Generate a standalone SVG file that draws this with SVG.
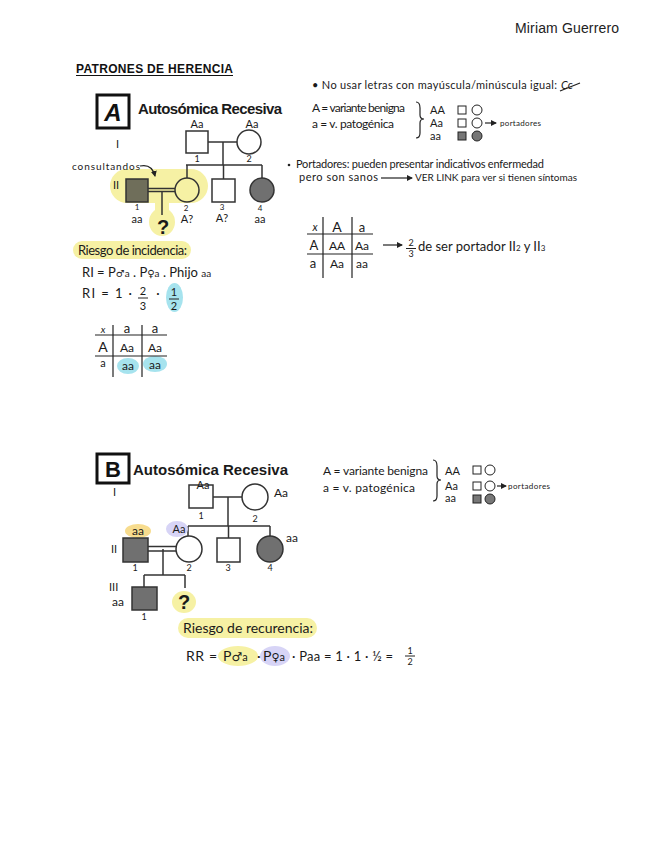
<svg xmlns="http://www.w3.org/2000/svg" width="648" height="848" viewBox="0 0 648 848">
<defs>
<style>
.hw{font-family:"Lato","Open Sans","Liberation Sans",sans-serif;fill:#1a1a1a}
.sym{font-family:"DejaVu Sans",sans-serif}
.sm{font-size:9px}
.md{font-size:11px}
.lg{font-size:12px}
.xl{font-size:13px}
.title{font-family:"Liberation Sans",Arial,sans-serif;font-weight:bold;font-size:15px;fill:#1a1a1a}
.c{text-anchor:middle}
.ln{stroke:#333;stroke-width:1.5;fill:none}
.thin{stroke:#222;stroke-width:1.2;fill:none}
.nd{stroke:#333;stroke-width:1.5;fill:#fff}
.aff{stroke:#333;stroke-width:1.5;fill:#707070}
.mini{stroke:#222;stroke-width:1;fill:#fff}
.minif{stroke:#222;stroke-width:1;fill:#777}
.yel{fill:#f6f1a4}
.cyan{fill:#a6e3ee}
.lav{fill:#d7d4f6}
.org{fill:#f7dc8e}
.q{font-family:"Liberation Sans",Arial,sans-serif;font-weight:bold;font-size:20px;fill:#1a1a1a;text-anchor:middle}
</style>
<marker id="ah" markerWidth="6" markerHeight="6" refX="5" refY="3" orient="auto" markerUnits="userSpaceOnUse">
<path d="M0,0 L6,3 L0,6 Z" fill="#222"/>
</marker>
</defs>
<rect width="648" height="848" fill="#fff"/>

<!-- header -->
<text x="515" y="33" font-family="Liberation Sans,Arial,sans-serif" font-size="14" fill="#222" textLength="104">Miriam Guerrero</text>
<text x="76" y="73" font-family="Liberation Sans,Arial,sans-serif" font-size="12" font-weight="bold" fill="#111" textLength="157">PATRONES DE HERENCIA</text>
<line x1="76" y1="75.5" x2="233" y2="75.5" stroke="#111" stroke-width="1"/>

<!-- ===== Section A ===== -->
<g id="boxA">
<rect x="97" y="95" width="32" height="33" fill="none" stroke="#111" stroke-width="3"/>
<text x="113" y="121" font-family="Liberation Sans,Arial,sans-serif" font-size="24" font-weight="bold" font-style="italic" text-anchor="middle" fill="#111">A</text>
</g>
<text class="title" x="138" y="114" textLength="144">Autosómica Recesiva</text>

<!-- highlights A -->
<rect class="yel" x="110" y="169" width="98" height="34" rx="17"/>
<ellipse class="yel" cx="162" cy="222" rx="13" ry="14"/>
<rect class="yel" x="155" y="200" width="14" height="12"/>

<g id="connectorsA">
<line class="ln" x1="208" y1="142" x2="237" y2="142"/>
<line class="ln" x1="223" y1="142" x2="223" y2="165"/>
<line class="ln" x1="186" y1="165" x2="262" y2="165"/>
<line class="ln" x1="187" y1="165" x2="187" y2="178"/>
<line class="ln" x1="223.5" y1="165" x2="223.5" y2="179"/>
<line class="ln" x1="262" y1="165" x2="262" y2="178"/>
<line class="ln" x1="148" y1="188.5" x2="175" y2="188.5"/>
<line class="ln" x1="148" y1="191.5" x2="175" y2="191.5"/>
<line class="ln" x1="162" y1="191" x2="162" y2="215"/>
<path class="thin" d="M140,166 C149,164 153,168 155,176" marker-end="url(#ah)"/>
</g>

<text class="hw md" x="116" y="148">I</text>
<text class="hw md" x="113" y="189">II</text>
<text class="hw" x="72" y="170" font-size="10" textLength="68">consultandos</text>

<g id="A-I1">
<rect class="nd" x="186" y="131" width="22" height="22"/>
<text class="hw md c" x="197" y="128">Aa</text>
<text class="hw sm c" x="197" y="162">1</text>
</g>
<g id="A-I2">
<circle class="nd" cx="249" cy="142" r="12"/>
<text class="hw md c" x="252" y="128">Aa</text>
<text class="hw sm c" x="249" y="162">2</text>
</g>
<g id="A-II1">
<rect x="126" y="179" width="22" height="23" fill="#6f6e5a" stroke="#333" stroke-width="1.5"/>
<text class="hw c" x="137" y="210" font-size="8">1</text>
<text class="hw md c" x="137" y="223">aa</text>
</g>
<g id="A-II2">
<circle cx="187" cy="190" r="12" fill="#f6f1a4" stroke="#333" stroke-width="1.5"/>
<text class="hw c" x="186" y="211" font-size="8">2</text>
<text class="hw md c" x="187" y="223">A?</text>
</g>
<g id="A-II3">
<rect class="nd" x="212" y="179" width="23" height="23"/>
<text class="hw c" x="222" y="210" font-size="8">3</text>
<text class="hw md c" x="222" y="222">A?</text>
</g>
<g id="A-II4">
<circle class="aff" cx="262" cy="190" r="12"/>
<text class="hw c" x="260" y="211" font-size="8">4</text>
<text class="hw md c" x="260" y="223">aa</text>
</g>
<g id="A-III">
<text class="q" x="163" y="234">?</text>
</g>

<!-- right side notes A -->
<g id="notesA">
<text class="hw md" x="312" y="89" textLength="245">• No usar letras con mayúscula/minúscula igual:</text>
<text class="hw md" x="561" y="89" font-style="italic">Cc</text>
<line x1="560" y1="91" x2="580" y2="83" stroke="#222" stroke-width="1.2"/>
<text class="hw lg" x="312" y="112" textLength="93">A = variante benigna</text>
<text class="hw lg" x="312" y="128" textLength="82">a = v. patogénica</text>
<path class="thin" d="M416,102 Q420,102 420,108 L420,115 Q420,119 424,119 Q420,119 420,123 L420,133 Q420,138 416,138"/>
<text class="hw md" x="430" y="114">AA</text>
<rect class="mini" x="458" y="106" width="8" height="8"/>
<circle class="mini" cx="477" cy="110" r="5"/>
<text class="hw md" x="430" y="127">Aa</text>
<rect class="mini" x="458" y="119" width="8" height="8"/>
<circle class="mini" cx="477" cy="123" r="5"/>
<line class="thin" x1="485" y1="123" x2="496" y2="123" marker-end="url(#ah)"/>
<text class="hw" x="500" y="126" font-size="8" textLength="41">portadores</text>
<text class="hw md" x="430" y="140">aa</text>
<rect class="minif" x="458" y="132" width="8" height="8"/>
<circle class="minif" cx="477" cy="136" r="5"/>

<circle cx="289" cy="165" r="1.3" fill="#222"/>
<text class="hw md" x="296" y="168" textLength="248">Portadores: pueden presentar indicativos enfermedad</text>
<text class="hw md" x="299" y="181" textLength="79">pero son sanos</text>
<line class="thin" x1="381" y1="178" x2="412" y2="178" marker-end="url(#ah)"/>
<text class="hw" x="415" y="181" font-size="10" textLength="162">VER LINK para ver si tienen síntomas</text>
</g>

<!-- Punnett right A -->
<g id="punnettA2">
<line class="thin" x1="323" y1="217" x2="323" y2="278"/>
<line class="thin" x1="352" y1="217" x2="352" y2="278"/>
<line class="thin" x1="307" y1="234" x2="373" y2="234"/>
<line class="thin" x1="307" y1="254" x2="373" y2="254"/>
<text class="hw md c" x="315" y="231" font-style="italic">x</text>
<text class="hw c" x="337" y="232" font-size="14">A</text>
<text class="hw xl c" x="362" y="232">a</text>
<text class="hw xl c" x="314" y="250">A</text>
<text class="hw lg c" x="337" y="250">AA</text>
<text class="hw lg c" x="362" y="250">Aa</text>
<text class="hw xl c" x="313" y="268">a</text>
<text class="hw lg c" x="337" y="268">Aa</text>
<text class="hw lg c" x="362" y="268">aa</text>
<line class="thin" x1="383" y1="245" x2="402" y2="245" marker-end="url(#ah)"/>
<text class="hw sm c" x="411" y="246">2</text>
<line x1="406" y1="248.5" x2="416" y2="248.5" stroke="#222" stroke-width="1"/>
<text class="hw sm c" x="411" y="257">3</text>
<text class="hw" x="418" y="251" font-size="13">de ser portador II<tspan font-size="8">2</tspan> y II<tspan font-size="8">3</tspan></text>
</g>

<!-- Risk A -->
<g id="riskA">
<rect class="yel" x="73" y="241" width="118" height="18" rx="9"/>
<text class="hw xl" x="78" y="255" textLength="109">Riesgo de incidencia:</text>
<text class="hw xl" x="82" y="277">RI = P<tspan class="sym" font-size="10">♂</tspan><tspan font-size="10">a</tspan> . P<tspan class="sym" font-size="10">♀</tspan><tspan font-size="10">a</tspan> . Phijo <tspan font-size="10">aa</tspan></text>
<text class="hw xl" x="82" y="298" textLength="50">RI = 1 ·</text>
<text class="hw md c" x="143" y="295">2</text>
<line x1="138" y1="298" x2="148" y2="298" stroke="#222" stroke-width="1"/>
<text class="hw md c" x="143" y="310">3</text>
<text class="hw xl c" x="158" y="298">·</text>
<ellipse class="cyan" cx="174.5" cy="297.5" rx="8.5" ry="14.5"/>
<text class="hw md c" x="174" y="296">1</text>
<line x1="169" y1="299" x2="179" y2="299" stroke="#222" stroke-width="1"/>
<text class="hw md c" x="174" y="310">2</text>
</g>

<!-- Punnett left A -->
<g id="punnettA1">
<ellipse class="cyan" cx="128" cy="366" rx="11" ry="8"/>
<ellipse class="cyan" cx="155" cy="364" rx="12" ry="8"/>
<line class="thin" x1="113" y1="325" x2="113" y2="377"/>
<line class="thin" x1="142" y1="325" x2="142" y2="377"/>
<line class="thin" x1="95" y1="335" x2="167" y2="335"/>
<line class="thin" x1="95" y1="356" x2="167" y2="356"/>
<text class="hw c" x="103" y="333" font-size="10" font-style="italic">x</text>
<text class="hw xl c" x="127" y="333">a</text>
<text class="hw xl c" x="155" y="333">a</text>
<text class="hw c" x="103" y="352" font-size="14">A</text>
<text class="hw lg c" x="127" y="352">Aa</text>
<text class="hw lg c" x="155" y="352">Aa</text>
<text class="hw md c" x="103" y="367">a</text>
<text class="hw lg c" x="128" y="370">aa</text>
<text class="hw lg c" x="155" y="369">aa</text>
</g>

<!-- ===== Section B ===== -->
<g id="boxB">
<rect x="97" y="454" width="32" height="29" fill="none" stroke="#111" stroke-width="3"/>
<text x="113" y="477" font-family="Liberation Sans,Arial,sans-serif" font-size="22" font-weight="bold" text-anchor="middle" fill="#111">B</text>
</g>
<text class="title" x="133" y="475" textLength="155">Autosómica Recesiva</text>

<g id="connectorsB">
<line class="ln" x1="213" y1="497" x2="242" y2="497"/>
<line class="ln" x1="228" y1="497" x2="228" y2="526"/>
<line class="ln" x1="188" y1="526" x2="270" y2="526"/>
<line class="ln" x1="188" y1="526" x2="188" y2="536"/>
<line class="ln" x1="228.5" y1="526" x2="228.5" y2="538"/>
<line class="ln" x1="270" y1="526" x2="270" y2="536"/>
<line class="ln" x1="148" y1="546.5" x2="176" y2="546.5"/>
<line class="ln" x1="148" y1="551" x2="176" y2="551"/>
<line class="ln" x1="163" y1="549" x2="163" y2="575"/>
<line class="ln" x1="144" y1="575" x2="185" y2="575"/>
<line class="ln" x1="144" y1="575" x2="144" y2="587"/>
<line class="ln" x1="185" y1="575" x2="185" y2="588"/>
</g>

<text class="hw md" x="113" y="496">I</text>
<text class="hw md" x="111" y="553">II</text>
<text class="hw md" x="109" y="591">III</text>

<g id="B-I1">
<rect class="nd" x="189" y="485" width="24" height="23"/>
<text class="hw md c" x="203" y="489">Aa</text>
<text class="hw sm c" x="201" y="519">1</text>
</g>
<g id="B-I2">
<circle class="nd" cx="255" cy="497" r="13"/>
<text class="hw lg c" x="281" y="497">Aa</text>
<text class="hw sm c" x="255" y="522">2</text>
</g>
<g id="B-II1">
<ellipse class="org" cx="138" cy="531" rx="13" ry="7"/>
<text class="hw lg c" x="138" y="535">aa</text>
<rect class="aff" x="123" y="538" width="25" height="24"/>
<text class="hw sm c" x="135" y="571">1</text>
</g>
<g id="B-II2">
<ellipse class="lav" cx="177" cy="529" rx="11" ry="8"/>
<text class="hw md c" x="179" y="533">Aa</text>
<circle class="nd" cx="189" cy="549" r="13"/>
<text class="hw sm c" x="189" y="571">2</text>
</g>
<g id="B-II3">
<rect class="nd" x="217" y="538" width="23" height="24"/>
<text class="hw sm c" x="228" y="571">3</text>
</g>
<g id="B-II4">
<circle class="aff" cx="270" cy="549" r="13"/>
<text class="hw lg c" x="292" y="542">aa</text>
<text class="hw sm c" x="270" y="571">4</text>
</g>
<g id="B-III1">
<rect class="aff" x="132" y="587" width="25" height="23"/>
<text class="hw lg c" x="118" y="606">aa</text>
<text class="hw sm c" x="144" y="620">1</text>
</g>
<g id="B-III2">
<ellipse class="yel" cx="184" cy="602" rx="12" ry="11"/>
<text class="q" x="184" y="609">?</text>
</g>

<g id="notesB">
<text class="hw lg" x="323" y="475" textLength="105">A = variante benigna</text>
<text class="hw lg" x="323" y="492" textLength="92">a = v. patogénica</text>
<path class="thin" d="M433,460 Q437,460 437,466 L437,476 Q437,480 441,480 Q437,480 437,484 L437,496 Q437,501 433,501"/>
<text class="hw md" x="445" y="475">AA</text>
<rect class="mini" x="473" y="466" width="8" height="8"/>
<circle class="mini" cx="490" cy="470" r="5"/>
<text class="hw md" x="445" y="490">Aa</text>
<rect class="mini" x="473" y="482" width="8" height="8"/>
<circle class="mini" cx="490" cy="486" r="5"/>
<line class="thin" x1="497" y1="486" x2="506" y2="486" marker-end="url(#ah)"/>
<text class="hw" x="508" y="489" font-size="8" textLength="42">portadores</text>
<text class="hw md" x="445" y="502">aa</text>
<rect class="minif" x="473" y="495" width="8" height="8"/>
<circle class="minif" cx="490" cy="499" r="5"/>
</g>

<g id="riskB">
<rect class="yel" x="178" y="618" width="139" height="20" rx="10"/>
<text class="hw" x="183" y="633" font-size="14" textLength="130">Riesgo de recurencia:</text>
<ellipse class="yel" cx="238" cy="656" rx="20" ry="10"/>
<ellipse class="lav" cx="275" cy="656" rx="15" ry="10"/>
<text class="hw" x="186" y="661" font-size="14" textLength="31">RR =</text>
<text class="hw" x="223" y="661" font-size="14">P<tspan class="sym" font-size="12">♂</tspan><tspan font-size="11">a</tspan></text>
<text class="hw" x="257" y="661" font-size="14">·</text>
<text class="hw" x="263" y="661" font-size="14">P<tspan class="sym" font-size="11">♀</tspan><tspan font-size="11">a</tspan></text>
<text class="hw" x="292" y="661" font-size="13" textLength="101">· Paa = 1 · 1 · ½ =</text>
<text class="hw c" x="410" y="654" font-size="9">1</text>
<line x1="405" y1="656" x2="415" y2="656" stroke="#222" stroke-width="1"/>
<text class="hw c" x="410" y="665" font-size="9">2</text>
</g>
</svg>
